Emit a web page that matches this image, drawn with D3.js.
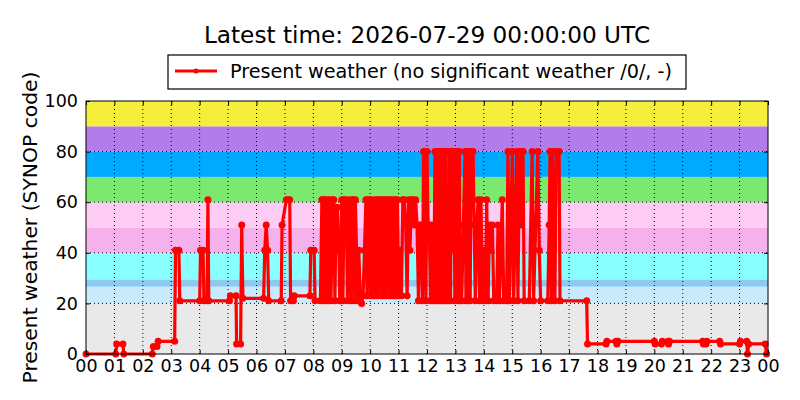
<!DOCTYPE html>
<html>
<head>
<meta charset="utf-8">
<script src="https://cdn.jsdelivr.net/npm/d3@7"></script>
<style>
  body { margin: 0; background: #fff; }
  text { font-family: "DejaVu Sans", sans-serif; }
</style>
</head>
<body>
<div id="chart"></div>
<script>
// observation times (hours since 00 UTC) and SYNOP present weather codes
const times = [
  0, 1.05, 1.08, 1.3, 1.33, 2.33, 2.37, 2.5, 2.54, 3.12, 3.15, 3.27, 3.3,
  4.0, 4.03, 4.12, 4.15, 4.26, 4.29, 4.32, 5.05, 5.08, 5.28, 5.3, 5.44, 5.48, 5.52,
  6.25, 6.29, 6.34, 6.39, 6.43, 6.87, 6.9, 7.05, 7.1, 7.17, 7.2, 7.3, 7.33,
  7.88, 7.91, 8.03, 8.06,
  8.25, 8.3, 8.34, 8.37, 8.42, 8.45, 8.5, 8.53, 8.58, 8.62, 8.68, 8.72, 8.76, 8.8, 8.85, 8.9, 8.93, 8.96,
  9.0, 9.04, 9.08, 9.12, 9.16, 9.2, 9.24, 9.28, 9.32, 9.36, 9.4, 9.44, 9.48, 9.52, 9.56, 9.6, 9.65, 9.7, 9.75, 9.8,
  9.85, 9.89, 9.93, 9.97, 10.01, 10.05, 10.08, 10.12, 10.16, 10.2, 10.24, 10.28, 10.32, 10.36,
  10.4, 10.44, 10.48, 10.52, 10.56, 10.6, 10.64, 10.68, 10.72, 10.76, 10.8, 10.84, 10.88, 10.92, 10.96,
  11.0, 11.05, 11.1, 11.15, 11.2, 11.25, 11.3, 11.35,
  11.4, 11.45, 11.5, 11.55, 11.6, 11.65, 11.7, 11.75, 11.8, 11.84, 11.88, 11.92, 11.96, 12.0, 12.04,
  12.08, 12.12, 12.16, 12.2, 12.24,
  12.28, 12.31, 12.34, 12.37, 12.4, 12.43, 12.46, 12.49, 12.52, 12.55, 12.58, 12.61, 12.64, 12.67, 12.7, 12.75,
  12.8, 12.83, 12.86, 12.89, 12.92, 12.95, 12.98, 13.02, 13.05, 13.08, 13.11, 13.14, 13.17, 13.22, 13.28,
  13.34, 13.37, 13.4, 13.43, 13.46, 13.49, 13.52, 13.55, 13.58, 13.62, 13.66, 13.7, 13.75, 13.8, 13.85,
  13.9, 13.95, 14.0, 14.05, 14.1, 14.15, 14.2, 14.25, 14.3, 14.35, 14.45, 14.5, 14.55, 14.65, 14.7, 14.8,
  14.85, 14.9, 15.0, 15.05, 15.15, 15.2, 15.25, 15.3, 15.33, 15.38, 15.42, 15.6, 15.7, 15.75, 15.9,
  15.95, 16.0, 16.25, 16.3, 16.33, 16.38, 16.42, 16.5, 16.55, 16.65, 16.68,
  17.62, 17.65, 18.3, 18.33, 18.65, 18.68, 18.72, 20.0, 20.03, 20.25, 20.28, 20.48, 20.5, 20.53,
  21.7, 21.73, 21.82, 21.85, 22.3, 22.33, 23.0, 23.03, 23.25, 23.28, 23.32, 23.9, 23.95
];
const codes = [
  0, 0, 4, 4, 0, 0, 3, 3, 5, 5, 41, 41, 21,
  21, 41, 41, 21, 21, 61, 21, 21, 23, 23, 4, 4, 51, 22,
  22, 41, 51, 41, 21, 21, 51, 61, 61, 61, 21, 21, 23,
  23, 41, 41, 21,
  21, 61, 61, 21, 61, 21, 61, 21, 61, 21, 61, 61, 21, 58, 58, 41, 21, 21,
  61, 21, 61, 61, 58, 21, 61, 58, 21, 61, 61, 21, 61, 41, 21, 41, 23, 20, 23, 41,
  61, 23, 61, 61, 23, 61, 51, 23, 61, 23, 61, 23, 61, 61,
  23, 61, 23, 61, 23, 61, 61, 23, 61, 23, 61, 23, 61, 23, 61,
  23, 41, 23, 61, 61, 51, 23, 61,
  41, 61, 61, 51, 61, 51, 21, 51, 51, 21, 80, 80, 21, 80, 51,
  51, 21, 51, 21, 22,
  80, 21, 80, 80, 21, 80, 21, 80, 80, 21, 80, 21, 80, 80, 21, 21,
  80, 21, 80, 80, 41, 80, 21, 51, 80, 21, 80, 80, 21, 21, 51,
  80, 21, 80, 80, 21, 80, 21, 80, 80, 80, 51, 21, 51, 61, 21,
  61, 21, 41, 21, 61, 21, 51, 41, 51, 21, 21, 51, 21, 61, 21, 21,
  80, 21, 80, 21, 80, 21, 80, 80, 51, 80, 21, 21, 80, 21, 80,
  41, 21, 21, 51, 80, 21, 80, 21, 80, 80, 21,
  21, 4, 4, 5, 5, 4, 5, 5, 4, 4, 5, 5, 4, 5,
  5, 4, 4, 5, 5, 4, 4, 5, 5, 0, 4, 4, 0
];
// background bands for the code groups
const bandLow = [0, 20, 26.6, 29.5, 40, 50, 60, 70, 80, 90];
const bandHigh = [20, 26.6, 29.5, 40, 50, 60, 70, 80, 90, 100];
const bandColors = ["#e9e9e9", "#c7eafd", "#8ec9f4", "#8affff", "#f5b1ec",
  "#fdcdf5", "#7be870", "#00aaff", "#b27ce9", "#f5ee3b"];
const hourTicks = d3.range(0, 25);
const codeTicks = [0, 20, 40, 60, 80, 100];

const data = times.map((t, i) => ({ t: t, v: codes[i] }));

const W = 800, H = 400;
const margin = { top: 101, right: 32, bottom: 46, left: 86 };
const width = W - margin.left - margin.right;
const height = H - margin.top - margin.bottom;

const svg = d3.select("#chart").append("svg")
  .attr("width", W).attr("height", H);

const x = d3.scaleLinear().domain([0, 24]).range([0, width]);
const y = d3.scaleLinear().domain([0, 100]).range([height, 0]);

const g = svg.append("g").attr("transform", `translate(${margin.left},${margin.top})`);

// bands
g.selectAll(".band").data(bandLow).enter().append("rect")
  .attr("x", 0)
  .attr("width", width)
  .attr("y", (d, i) => y(bandHigh[i]))
  .attr("height", (d, i) => y(d) - y(bandHigh[i]))
  .attr("fill", (d, i) => bandColors[i]);

// dotted grid
g.selectAll(".vgrid").data(hourTicks.slice(1, -1)).enter().append("line")
  .attr("x1", d => x(d)).attr("x2", d => x(d))
  .attr("y1", 0).attr("y2", height)
  .attr("stroke", "#000").attr("stroke-width", 1).attr("stroke-dasharray", "1,3");
g.selectAll(".hgrid").data(codeTicks.slice(1, -1)).enter().append("line")
  .attr("y1", d => y(d)).attr("y2", d => y(d))
  .attr("x1", 0).attr("x2", width)
  .attr("stroke", "#000").attr("stroke-width", 1).attr("stroke-dasharray", "1,3");

// series
const line = d3.line().x(d => x(d.t)).y(d => y(d.v));
g.append("path").datum(data)
  .attr("fill", "none").attr("stroke", "#ff0000")
  .attr("stroke-width", 3.2).attr("stroke-linejoin", "round")
  .attr("d", line);
g.selectAll(".pt").data(data).enter().append("circle")
  .attr("cx", d => x(d.t)).attr("cy", d => y(d.v))
  .attr("r", 3.5).attr("fill", "#ff0000");

// axes (inward ticks on all sides, classic style)
const fmtHour = d => String(d % 24).padStart(2, "0");
g.append("g").attr("transform", `translate(0,${height})`)
  .call(d3.axisBottom(x).tickValues(hourTicks).tickFormat(fmtHour).tickSizeInner(-4).tickSizeOuter(0).tickPadding(6))
  .call(a => a.select(".domain").remove())
  .selectAll("text").attr("font-size", "17.5px").attr("fill", "#000")
  .style("font-family", "DejaVu Sans, sans-serif");
g.append("g")
  .call(d3.axisTop(x).tickValues(hourTicks).tickFormat("").tickSizeInner(-4).tickSizeOuter(0))
  .call(a => a.select(".domain").remove());
g.append("g")
  .call(d3.axisLeft(y).tickValues(codeTicks).tickSizeInner(-4).tickSizeOuter(0).tickPadding(8))
  .call(a => a.select(".domain").remove())
  .selectAll("text").attr("font-size", "17.5px").attr("fill", "#000")
  .style("font-family", "DejaVu Sans, sans-serif");
g.append("g").attr("transform", `translate(${width},0)`)
  .call(d3.axisRight(y).tickValues(codeTicks).tickFormat("").tickSizeInner(-4).tickSizeOuter(0))
  .call(a => a.select(".domain").remove());

g.append("rect").attr("width", width).attr("height", height)
  .attr("fill", "none").attr("stroke", "#000").attr("stroke-width", 1);

// y label
svg.append("text")
  .attr("transform", `translate(37,${margin.top + height / 2}) rotate(-90)`)
  .attr("text-anchor", "middle")
  .attr("font-size", "20.3px")
  .text("Present weather (SYNOP code)");

// title
svg.append("text")
  .attr("x", margin.left + width / 2).attr("y", 43)
  .attr("text-anchor", "middle")
  .attr("font-size", "23.2px")
  .text("Latest time: 2026-07-29 00:00:00 UTC");

// legend
const lg = svg.append("g").attr("transform", "translate(168,55)");
lg.append("rect").attr("width", 518).attr("height", 34)
  .attr("fill", "#fff").attr("stroke", "#000").attr("stroke-width", 1.2);
lg.append("line").attr("x1", 7).attr("x2", 49).attr("y1", 16).attr("y2", 16)
  .attr("stroke", "#ff0000").attr("stroke-width", 3);
lg.append("circle").attr("cx", 28).attr("cy", 16).attr("r", 2.5).attr("fill", "#ff0000");
lg.append("text").attr("x", 62).attr("y", 23)
  .attr("font-size", "19.2px")
  .text("Present weather (no significant weather /0/, -)");
</script>
</body>
</html>
